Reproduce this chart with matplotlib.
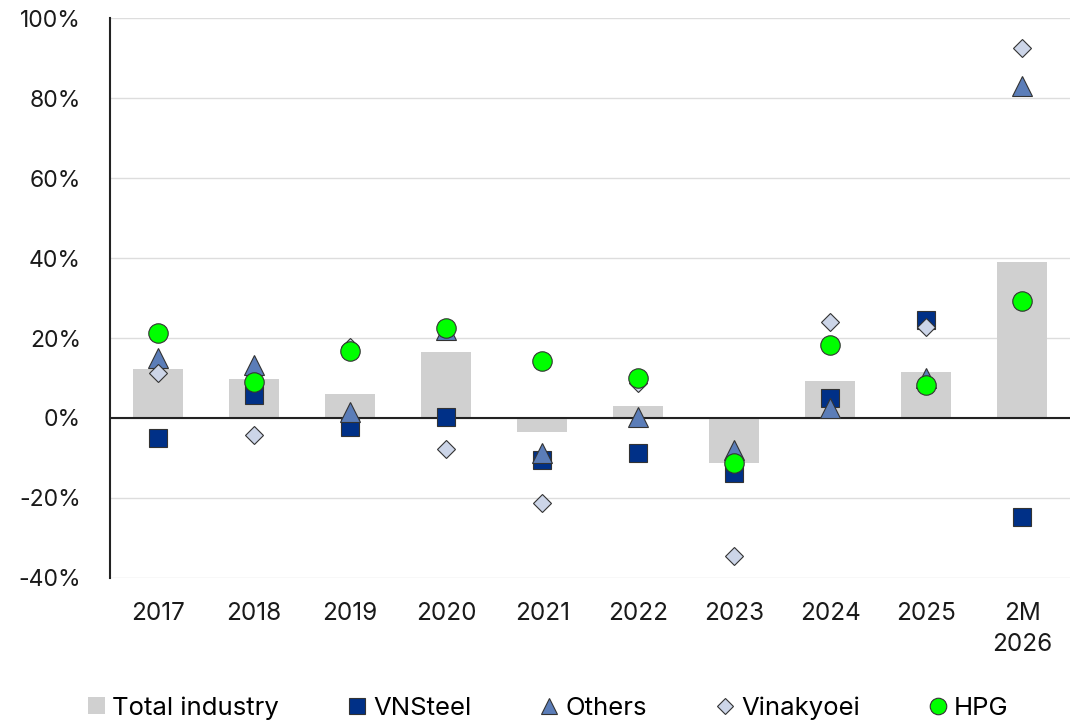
import matplotlib.pyplot as plt
import numpy as np

plt.rcParams['font.family'] = ['Inter', 'DejaVu Sans']

# Year-on-year growth by producer (%)
categories = ['2017', '2018', '2019', '2020', '2021', '2022', '2023', '2024', '2025', '2M\n2026']
total_industry = [12.3, 9.7, 6.1, 16.5, -3.5, 3.1, -11.3, 9.3, 11.6, 39.0]
vnsteel = [-5.1, 5.8, -2.2, 0.3, -10.5, -8.7, -13.8, 5.0, 24.5, -24.7]
others = [15.0, 13.3, 1.6, 22.0, -8.8, 0.3, -8.0, 2.5, 10.0, 83.0]
vinakyoei = [11.2, -4.3, 17.8, -7.8, -21.3, 8.7, -34.5, 24.1, 22.8, 92.6]
hpg = [21.3, 9.1, 16.8, 22.6, 14.3, 9.9, -11.3, 18.3, 8.2, 29.2]

x = np.arange(len(categories))

fig = plt.figure(figsize=(10.79, 7.26), dpi=100)
ax = fig.add_axes([0.102, 0.204, 0.890, 0.771])

edge = '#333333'
bars = ax.bar(x, total_industry, width=0.52, color='#D0D0D0', label='Total industry', zorder=2)
sq, = ax.plot(x, vnsteel, 's', ms=13.5, mfc='#003087', mec=edge, mew=0.8, label='VNSteel', zorder=3)
tri, = ax.plot(x, others, '^', ms=14, mfc='#5B7DB8', mec=edge, mew=0.8, label='Others', zorder=4)
dia, = ax.plot(x, vinakyoei, 'D', ms=9.2, mfc='#CCD5E8', mec=edge, mew=0.8, label='Vinakyoei', zorder=5)
circ, = ax.plot(x, hpg, 'o', ms=14, mfc='#00FF00', mec=edge, mew=0.8, label='HPG', zorder=6)

ax.axhline(0, color='#222222', lw=1.5, zorder=2.5)

ax.set_xlim(-0.5, len(categories) - 0.5)
ax.set_ylim(-40, 100)
ax.set_yticks(np.arange(-40, 101, 20))
ax.set_yticklabels([f'{v}%' for v in range(-40, 101, 20)])
ax.set_xticks(x)
ax.set_xticklabels(categories)
ax.yaxis.grid(True, color='#DDDDDD', lw=1)
ax.set_axisbelow(True)

for side in ['top', 'right', 'bottom']:
    ax.spines[side].set_visible(False)
ax.spines['left'].set_color('#222222')
ax.spines['left'].set_linewidth(1.5)
ax.tick_params(axis='both', length=0, colors='#1a1a1a')
ax.tick_params(axis='y', pad=21, labelsize=16.5)
ax.tick_params(axis='x', pad=17, labelsize=17.5)
for lbl in ax.get_xticklabels():
    lbl.set_linespacing(1.45)

handles = [bars, sq, tri, dia, circ]
labels = [h.get_label() for h in handles]
fig.legend(handles, labels, loc='center', bbox_to_anchor=(0.508, 0.025), ncol=5,
           frameon=False, fontsize=18.5, columnspacing=2.7, handlelength=0.66,
           handleheight=0.66, handletextpad=0.3, markerscale=0.85)

fig.savefig('out.png', dpi=100)
